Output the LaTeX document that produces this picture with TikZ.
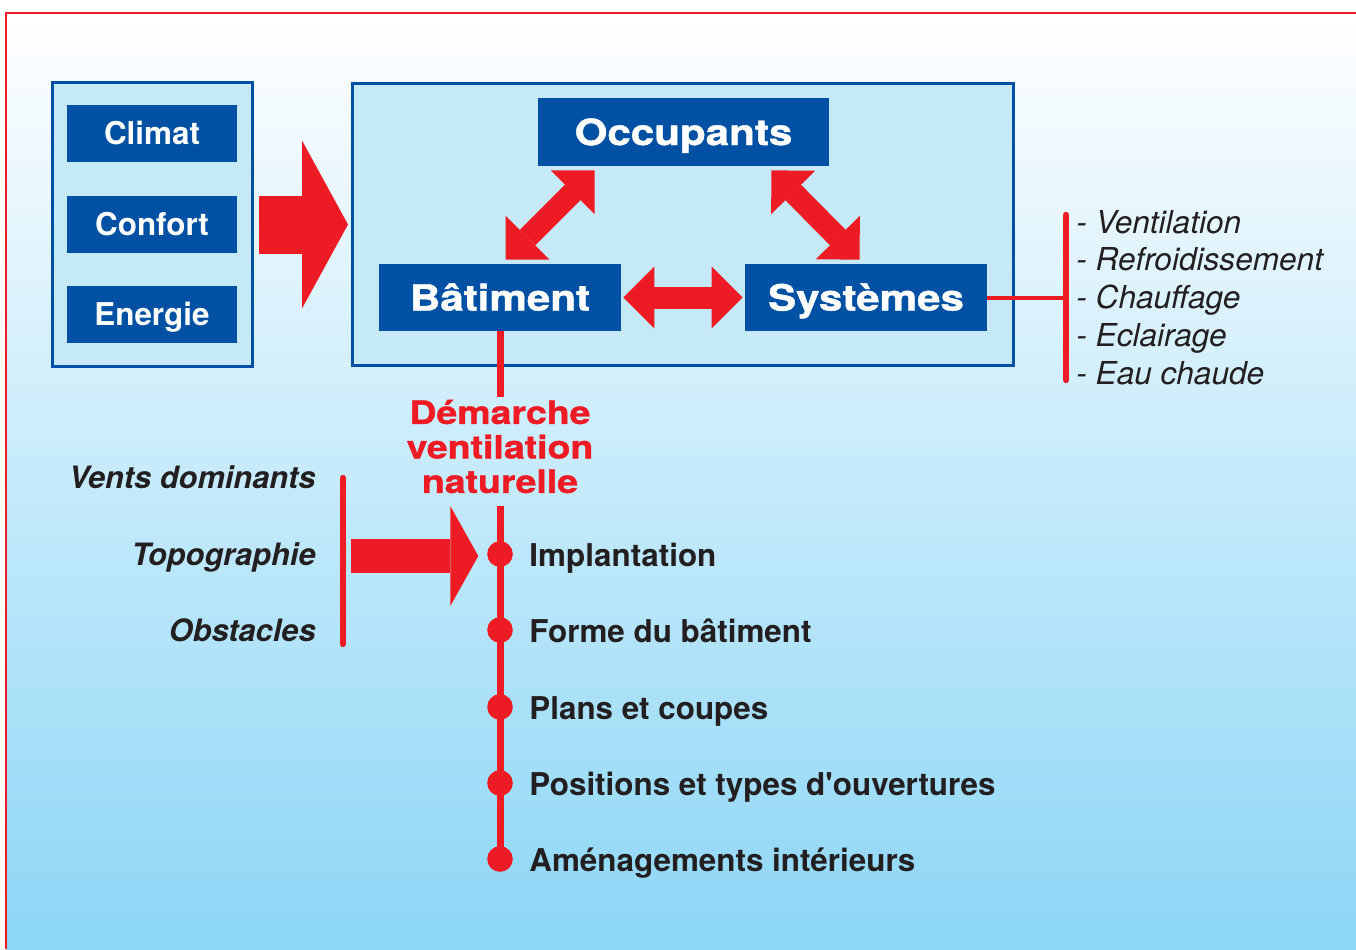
\documentclass[tikz,border=0pt]{standalone}
\usepackage{fontspec}
\setmainfont{TeX Gyre Heros}[Ligatures=TeXOff]
\newfontfamily\titre[FakeStretch=1.17,FakeBold=1.2]{TeX Gyre Heros}
\usetikzlibrary{calc,
                 positioning,
                 arrows.meta
  }

\definecolor{bleu}{RGB}{0,81,163}
\definecolor{rouge}{RGB}{237,28,36}
\definecolor{cadre}{RGB}{198,233,248}
\definecolor{fondbas}{RGB}{140,214,246}
\definecolor{encre}{RGB}{35,31,32}

\begin{document}
\begin{tikzpicture}[
      x=0.5pt, y=-0.5pt,
      cadrebleu/.style={
                rectangle,
                draw=bleu,
                line width=1.5pt,
                fill=cadre
                },
      boite/.style={
                rectangle,
                fill=bleu,
                text=white,
                inner sep=0pt,
                font=\bfseries\fontsize{15.7}{18}\selectfont,
                minimum width=85pt,
                minimum height=28.5pt,
                text height=11.3pt,
                text depth=0pt
                },
      grandeboite/.style={
                boite,
                font=\titre\bfseries\fontsize{18}{21}\selectfont,
                minimum width=121pt,
                minimum height=33.5pt,
                text height=13pt
                },
      fleche/.style={
                draw=rouge,
                line width=11pt,
                arrows={Triangle[length=15.5pt,width=31pt,line width=0pt]-Triangle[length=15.5pt,width=31pt,line width=0pt]}
                },
      grossefleche/.style={
                draw=rouge,
                line width=29pt,
                arrows={-Triangle[length=23pt,width=84pt,line width=0pt]}
                },
      moyennefleche/.style={
                draw=rouge,
                line width=17pt,
                arrows={-Triangle[length=14pt,width=50pt,line width=0pt]}
                },
      trait/.style={draw=rouge, line width=3.5pt},
      accolade/.style={draw=rouge, line width=3.2pt, line cap=round},
      pastille/.style={circle, fill=rouge, inner sep=0pt, minimum size=12.8pt},
      etiquette/.style={inner sep=0pt, text=encre, font=\bfseries\fontsize{15.7}{18}\selectfont},
      facteur/.style={inner sep=0pt, text=encre, font=\bfseries\itshape\fontsize{15.4}{18}\selectfont},
      liste/.style={inner sep=0pt, text=encre, font=\itshape\fontsize{15.8}{18}\selectfont}
]

\useasboundingbox (0,0) rectangle (1356,949);

% fond et cadre rouge
\shade[top color=white, bottom color=fondbas] (6,13) rectangle (1356,949);
\draw[rouge, line width=1pt] (1356,13) -- (6,13) -- (6,949);

% entrees
\node[cadrebleu, minimum width=100pt, minimum height=142pt] (facteurs) at (152.5,224.5) {};
\node[boite] (climat) at (152,133.5) {Climat};
\node[boite] (confort) at (152,224.5) {Confort};
\node[boite] (energie) at (152,314.5) {Energie};

% systeme batiment
\node[cadrebleu, minimum width=330.5pt, minimum height=141pt] (systeme) at (683,224.5) {};
\node[grandeboite, minimum width=145.5pt, minimum height=34pt] (occupants) at (683.5,132) {Occupants};
\node[grandeboite] (batiment) at (500,297.5) {Bâtiment};
\node[grandeboite] (systemes) at (866,297.5) {Systèmes};

\draw[grossefleche, shorten <=2.5pt, shorten >=1.5pt] (facteurs) -- (systeme);

\draw[fleche, shorten <=1pt, shorten >=1pt] (batiment) -- (systemes);
\draw[fleche] ($(occupants.south west)+(57,4)$) -- ($(batiment.north west)+(127,-4)$);
\draw[fleche] ($(occupants.south east)+(-58,4)$) -- ($(systemes.north west)+(115,-4)$);

% equipements
\coordinate (syshaut) at (1066,215);
\coordinate (sysbas) at (1066,380);
\draw[rouge, line width=2pt] (systemes.east) -- (systemes.east -| sysbas);
\draw[accolade] (syshaut) -- (sysbas);
\foreach \txt [count=\i] in {Ventilation, Refroidissement, Chauffage, Eclairage, Eau chaude}
  \node[liste, anchor=base west] (item\i) at (1076,{233+37.75*(\i-1)}) {- \txt};

% demarche
\node[inner sep=0pt, align=center, text=rouge, font=\titre\bfseries\fontsize{16}{17.25}\selectfont] (demarche) at (500,446.5) {Démarche\\ventilation\\naturelle};

\foreach \y [count=\i] in {554,630,707,783,859}
  \node[pastille] (etape\i) at (500,\y) {};

\draw[trait, shorten >=1pt] (batiment.south) -- (demarche.north);
\draw[trait, shorten <=6pt] (demarche.south) -- (etape5.center);

\foreach \txt [count=\i] in {Implantation, Forme du bâtiment, Plans et coupes, Positions et types d'ouvertures, Aménagements intérieurs}
  \node[etiquette, anchor=base west] (texte\i) at ($(etape\i)+(29,12)$) {\txt};

% site
\node[facteur, anchor=base east] (vents) at (316,488) {Vents dominants};
\node[facteur, anchor=base east] (topo) at (316,565) {Topographie};
\node[facteur, anchor=base east] (obstacles) at (316,641) {Obstacles};

\coordinate (sitehaut) at (343,478);
\coordinate (sitebas) at (343,644);
\coordinate (sitemilieu) at (343,556);
\draw[accolade] (sitehaut) -- (sitebas);
\draw[moyennefleche, shorten <=4pt, shorten >=4.25pt] (sitemilieu) -- (sitemilieu -| etape1.west);

\end{tikzpicture}
\end{document}
